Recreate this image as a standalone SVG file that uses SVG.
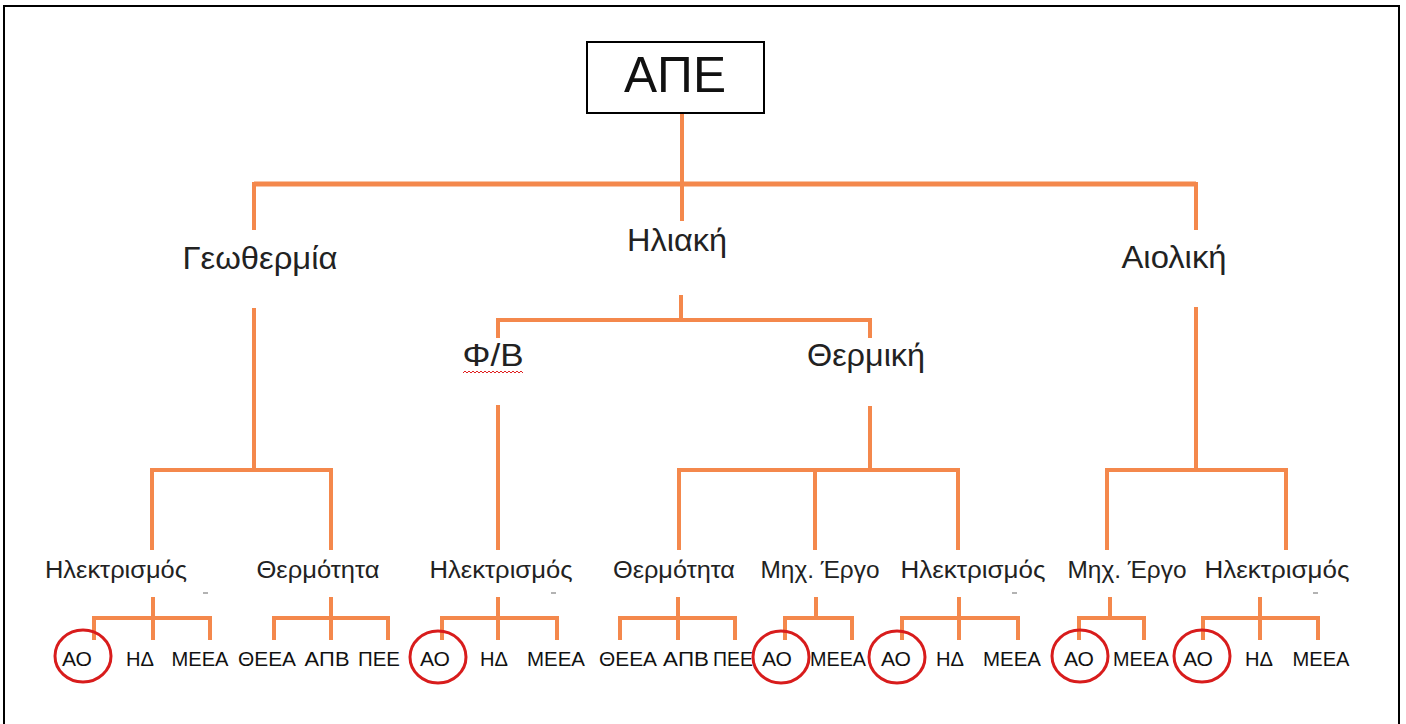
<svg xmlns="http://www.w3.org/2000/svg" width="1406" height="724" viewBox="0 0 1406 724">
<style>
.c{stroke:#f4884c;stroke-width:4;fill:none;stroke-linecap:butt}
.t2{font-family:"Liberation Sans",Arial,sans-serif;font-size:31px;fill:#222;text-anchor:middle}
.t3{font-family:"Liberation Sans",Arial,sans-serif;font-size:23px;fill:#222;text-anchor:middle}
.t4{font-family:"Liberation Sans",Arial,sans-serif;font-size:20px;fill:#111;text-anchor:middle}
.ring{fill:none;stroke:#d81c1c;stroke-width:3}
.dash{stroke:#9a9a9a;stroke-width:1.5}
</style>
<rect width="1406" height="724" fill="#ffffff"/>
<path d="M4,724 V6 H1399 V724" fill="none" stroke="#000" stroke-width="2"/>

<g id="connectors">
<path class="c" d="M682,113 V184"/>
<path class="c" style="stroke-width:5" d="M254,184 H1196"/>
<path class="c" d="M254,182 V230 M682,184 V221 M1196,182 V230"/>
<path class="c" d="M681,295 V320 M496,320 H872 M498,320 V338 M870,320 V338"/>
<path class="c" d="M254,308 V470 M150,470 H333 M152,470 V550 M331,470 V550"/>
<path class="c" d="M498,405 V550"/>
<path class="c" d="M870,406 V470 M677,470 H960 M679,470 V550 M815,470 V550 M958,470 V550"/>
<path class="c" d="M1196,307 V470 M1105,470 H1288 M1107,470 V550 M1286,470 V550"/>
<path class="c" d="M153,597 V640 M92,618 H212 M94,618 V640 M210,618 V640"/>
<path class="c" d="M331,597 V640 M272,618 H390 M274,618 V640 M388,618 V640"/>
<path class="c" d="M498,597 V640 M440,618 H559 M442,618 V640 M557,618 V640"/>
<path class="c" d="M678,597 V640 M618,618 H737 M620,618 V640 M735,618 V640"/>
<path class="c" d="M816,597 V618 M783,618 H854 M785,618 V640 M852,618 V640"/>
<path class="c" d="M959,597 V640 M900,618 H1020 M902,618 V640 M1018,618 V640"/>
<path class="c" d="M1110,597 V618 M1077,618 H1146 M1079,618 V640 M1144,618 V640"/>
<path class="c" d="M1260,597 V640 M1201,618 H1320 M1203,618 V640 M1318,618 V640"/>
</g>

<g id="ape">
<rect x="587" y="42" width="177" height="71" fill="#fff" stroke="#000" stroke-width="2"/>
<text x="675" y="92" font-family="Liberation Sans,Arial,sans-serif" font-size="50" fill="#111" text-anchor="middle" textLength="102" lengthAdjust="spacingAndGlyphs">ΑΠΕ</text>
</g>

<g id="geothermia"><text class="t2" x="260" y="269" textLength="155" lengthAdjust="spacingAndGlyphs">Γεωθερμία</text></g>
<g id="iliaki"><text class="t2" x="677" y="251" textLength="100" lengthAdjust="spacingAndGlyphs">Ηλιακή</text></g>
<g id="aioliki"><text class="t2" x="1174" y="268" textLength="105" lengthAdjust="spacingAndGlyphs">Αιολική</text></g>
<g id="fb"><text class="t2" x="493" y="366" textLength="61" lengthAdjust="spacingAndGlyphs">Φ/Β</text>
<path d="M463,373 l2,-2 l2,2 l2,-2 l2,2 l2,-2 l2,2 l2,-2 l2,2 l2,-2 l2,2 l2,-2 l2,2 l2,-2 l2,2 l2,-2 l2,2 l2,-2 l2,2 l2,-2 l2,2 l2,-2 l2,2 l2,-2 l2,2 l2,-2 l2,2 l2,-2 l2,2 l2,-2 l2,2" fill="none" stroke="#e02020" stroke-width="1"/></g>
<g id="thermiki"><text class="t2" x="866" y="366" textLength="118" lengthAdjust="spacingAndGlyphs">Θερμική</text></g>

<g id="geo-ilektrismos"><text class="t3" x="116" y="578" textLength="142" lengthAdjust="spacingAndGlyphs">Ηλεκτρισμός</text><line class="dash" x1="203" y1="593" x2="208" y2="593"/></g>
<g id="geo-thermotita"><text class="t3" x="318" y="578" textLength="123" lengthAdjust="spacingAndGlyphs">Θερμότητα</text></g>
<g id="fb-ilektrismos"><text class="t3" x="501" y="578" textLength="143" lengthAdjust="spacingAndGlyphs">Ηλεκτρισμός</text><line class="dash" x1="551" y1="593" x2="556" y2="593"/></g>
<g id="th-thermotita"><text class="t3" x="674" y="578" textLength="122" lengthAdjust="spacingAndGlyphs">Θερμότητα</text></g>
<g id="th-mix"><text class="t3" x="820" y="578" textLength="119" lengthAdjust="spacingAndGlyphs">Μηχ. Έργο</text></g>
<g id="th-ilektrismos"><text class="t3" x="973" y="578" textLength="145" lengthAdjust="spacingAndGlyphs">Ηλεκτρισμός</text><line class="dash" x1="1012" y1="593" x2="1017" y2="593"/></g>
<g id="ai-mix"><text class="t3" x="1127" y="578" textLength="119" lengthAdjust="spacingAndGlyphs">Μηχ. Έργο</text></g>
<g id="ai-ilektrismos"><text class="t3" x="1277" y="578" textLength="145" lengthAdjust="spacingAndGlyphs">Ηλεκτρισμός</text><line class="dash" x1="1313" y1="593" x2="1318" y2="593"/></g>

<g id="leaves-geo-il">
<text class="t4" x="77" y="666" textLength="30" lengthAdjust="spacingAndGlyphs">ΑΟ</text><ellipse class="ring" cx="83" cy="656" rx="28" ry="26"/>
<text class="t4" x="140" y="666" textLength="28" lengthAdjust="spacingAndGlyphs">ΗΔ</text>
<text class="t4" x="200" y="666" textLength="57" lengthAdjust="spacingAndGlyphs">ΜΕΕΑ</text>
</g>
<g id="leaves-geo-th">
<text class="t4" x="267" y="666" textLength="58" lengthAdjust="spacingAndGlyphs">ΘΕΕΑ</text>
<text class="t4" x="327" y="666" textLength="45" lengthAdjust="spacingAndGlyphs">ΑΠΒ</text>
<text class="t4" x="379" y="666" textLength="42" lengthAdjust="spacingAndGlyphs">ΠΕΕ</text>
</g>
<g id="leaves-fb-il">
<text class="t4" x="435" y="666" textLength="30" lengthAdjust="spacingAndGlyphs">ΑΟ</text><ellipse class="ring" cx="438" cy="657" rx="28" ry="26"/>
<text class="t4" x="494" y="666" textLength="28" lengthAdjust="spacingAndGlyphs">ΗΔ</text>
<text class="t4" x="556" y="666" textLength="58" lengthAdjust="spacingAndGlyphs">ΜΕΕΑ</text>
</g>
<g id="leaves-th-th">
<text class="t4" x="628" y="666" textLength="58" lengthAdjust="spacingAndGlyphs">ΘΕΕΑ</text>
<text class="t4" x="686" y="666" textLength="46" lengthAdjust="spacingAndGlyphs">ΑΠΒ</text>
<text class="t4" x="733" y="666" textLength="40" lengthAdjust="spacingAndGlyphs">ΠΕΕ</text>
</g>
<g id="leaves-th-mix">
<text class="t4" x="777" y="666" textLength="30" lengthAdjust="spacingAndGlyphs">ΑΟ</text><ellipse class="ring" cx="781" cy="657" rx="28" ry="26"/>
<text class="t4" x="838" y="666" textLength="56" lengthAdjust="spacingAndGlyphs">ΜΕΕΑ</text>
</g>
<g id="leaves-th-il">
<text class="t4" x="896" y="666" textLength="30" lengthAdjust="spacingAndGlyphs">ΑΟ</text><ellipse class="ring" cx="897" cy="657" rx="28" ry="26"/>
<text class="t4" x="950" y="666" textLength="28" lengthAdjust="spacingAndGlyphs">ΗΔ</text>
<text class="t4" x="1012" y="666" textLength="58" lengthAdjust="spacingAndGlyphs">ΜΕΕΑ</text>
</g>
<g id="leaves-ai-mix">
<text class="t4" x="1079" y="666" textLength="30" lengthAdjust="spacingAndGlyphs">ΑΟ</text><ellipse class="ring" cx="1080" cy="656" rx="28" ry="26"/>
<text class="t4" x="1141" y="666" textLength="56" lengthAdjust="spacingAndGlyphs">ΜΕΕΑ</text>
</g>
<g id="leaves-ai-il">
<text class="t4" x="1198" y="666" textLength="30" lengthAdjust="spacingAndGlyphs">ΑΟ</text><ellipse class="ring" cx="1202" cy="656" rx="28" ry="26"/>
<text class="t4" x="1259" y="666" textLength="28" lengthAdjust="spacingAndGlyphs">ΗΔ</text>
<text class="t4" x="1321" y="666" textLength="57" lengthAdjust="spacingAndGlyphs">ΜΕΕΑ</text>
</g>
</svg>
